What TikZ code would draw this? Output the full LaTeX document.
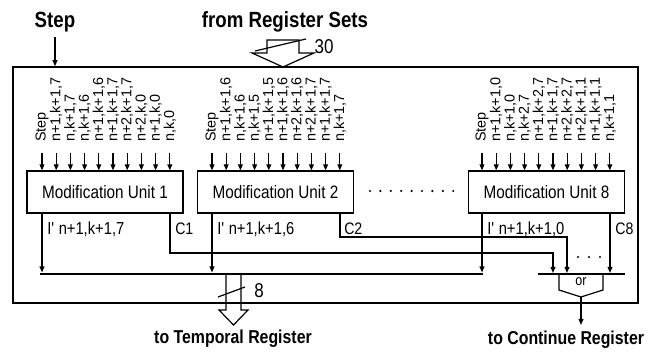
\documentclass[tikz,border=0pt]{standalone}
\usepackage{fontspec}
\setmainfont{Liberation Sans}[FakeStretch=0.85]
\newfontfamily\pinfont{Liberation Sans}
\usetikzlibrary{arrows.meta}
\begin{document}
\begin{tikzpicture}[x=0.75pt,y=-0.75pt]
	\tikzset{
		unitbox/.style={draw, line width=0.9pt, minimum width=117pt, minimum height=31.5pt, inner sep=0pt, font=\fontsize{13.5}{15}\selectfont},
		inname/.style={rotate=90, anchor=west, inner sep=0pt, font=\pinfont\fontsize{10.8}{12}\selectfont},
		outname/.style={anchor=west, inner sep=0pt, font=\fontsize{13}{15}\selectfont},
		extlbl/.style={inner sep=0pt, font=\bfseries\fontsize{16.5}{18}\selectfont},
		sig/.style={line width=0.9pt, -{Triangle[length=4.5pt,width=3.6pt]}},
		wire/.style={line width=0.9pt},
		dotmark/.style={circle, fill=black, inner sep=0pt, minimum size=1.8pt}
	}
	\useasboundingbox (0,0) rectangle (661,352);
	% frame and units
	\node[draw, line width=1.2pt, minimum width=468.75pt, minimum height=177pt, inner sep=0pt] (frame) at (325.5,185) {};
	\node[unitbox] (mu1) at (105,192)   {Modification Unit 1};
	\node[unitbox] (mu2) at (275.5,192) {Modification Unit 2};
	\node[unitbox] (mu8) at (546.5,192) {Modification Unit 8};
	\foreach \k in {0,...,8}
		\node[dotmark] (gap\k) at (370+10.4*\k,191) {};
	% outside labels
	\node[extlbl] (steplbl) at (55,22) {Step};
	\node[extlbl] (fromlbl) at (285,22) {from Register Sets};
	\node[extlbl, font=\bfseries\fontsize{14}{16}\selectfont] (temp) at (233,339) {to Temporal Register};
	\node[extlbl, font=\bfseries\fontsize{14}{16}\selectfont] (cont) at (566,340) {to Continue Register};
	\coordinate (s0) at (55,37);
	\draw[sig] (s0) -- (s0 |- frame.north);
	% input bus from register sets
	\coordinate (bt) at (283,67);
	\draw[wire, line join=miter] (267,40) -- (299,40) -- (299,53) -- (314,53) -- (bt) -- (252,53) -- (267,53) -- cycle;
	\draw[wire] (255,51) -- (306,39);
	\node[inner sep=0pt, font=\fontsize{15}{17}\selectfont] (w30) at (324,47) {30};
	% inputs of the units
	\foreach \lab [count=\i] in {Step,{n+1,k+1,7},{n,k+1,7},{n,k+1,6},{n+1,k+1,6},{n+1,k+1,7},{n+2,k+1,7},{n+2,k,0},{n+1,k,0},{n,k,0}}{
		\pgfmathsetmacro\xx{42+14.2*(\i-1)}
		\node[inname] (ua\i) at (\xx,142) {\lab};
		\coordinate (ta\i) at (\xx,153);
		\draw[sig] (ta\i) -- (ta\i |- mu1.north);
	}
	\foreach \lab [count=\i] in {Step,{n+1,k+1,6},{n,k+1,6},{n,k+1,5},{n+1,k+1,5},{n+1,k+1,6},{n+2,k+1,6},{n+2,k+1,7},{n+1,k+1,7},{n,k+1,7}}{
		\pgfmathsetmacro\xx{212+14.2*(\i-1)}
		\node[inname] (ub\i) at (\xx,142) {\lab};
		\coordinate (tb\i) at (\xx,153);
		\draw[sig] (tb\i) -- (tb\i |- mu2.north);
	}
	\foreach \lab [count=\i] in {Step,{n+1,k+1,0},{n,k+1,0},{n,k+2,7},{n+1,k+2,7},{n+1,k+1,7},{n+2,k+2,7},{n+2,k+1,1},{n+1,k+1,1},{n,k+1,1}}{
		\pgfmathsetmacro\xx{482+14.2*(\i-1)}
		\node[inname] (uh\i) at (\xx,142) {\lab};
		\coordinate (th\i) at (\xx,153);
		\draw[sig] (th\i) -- (th\i |- mu8.north);
	}
	% outputs
	\node[outname] (o1) at (47,229)  {I\textquotesingle\ n+1,k+1,7};
	\node[outname] (o2) at (217,229) {I\textquotesingle\ n+1,k+1,6};
	\node[outname] (o8) at (487,229) {I\textquotesingle\ n+1,k+1,0};
	\node[outname, font=\fontsize{12.5}{14}\selectfont] (c1) at (175,229) {C1};
	\node[outname, font=\fontsize{12.5}{14}\selectfont] (c2) at (344,229) {C2};
	\node[outname, font=\fontsize{12.5}{14}\selectfont] (c8) at (615,229) {C8};
	\coordinate (busl) at (40,274);
	\coordinate (busr) at (483,274);
	\draw[line width=2.2pt] (busl) -- (busr);
	\draw[sig] (ta1 |- mu1.south) -- (ta1 |- 0,272.5);
	\draw[sig] (tb1 |- mu2.south) -- (tb1 |- 0,272.5);
	\draw[sig] (th1 |- mu8.south) -- (th1 |- 0,272.5);
	% output bus to temporal register
	\draw[wire, line join=miter] (226,275) -- (226,310) -- (219,310) -- (233.5,325) -- (248,310) -- (241,310) -- (241,275);
	\draw[wire] (218,297) -- (245,287);
	\node[inner sep=0pt, font=\fontsize{15}{17}\selectfont] (w8) at (259,291) {8};
	% or gate
	\coordinate (g1) at (553,273);
	\coordinate (g2) at (567,273);
	\coordinate (g3) at (610,273);
	\coordinate (lc1) at (170,253);
	\coordinate (lc2) at (340,237);
	\draw[sig] (lc1 |- mu1.south) -- (lc1) -| (g1);
	\draw[sig] (lc2 |- mu2.south) -- (lc2) -| (g2);
	\draw[sig] (g3 |- mu8.south) -- (g3);
	\foreach \k in {0,1,2}
		\node[dotmark] (cd\k) at (578+11*\k,257) {};
	\draw[wire] (538,274) -- (625,274);
	\draw[wire, line join=miter] (559,274) -- (559,290) -- (581,297) -- (603,290) -- (603,274);
	\node[inner sep=0pt, font=\fontsize{11}{13}\selectfont] (orlbl) at (581,282) {or};
	\coordinate (gout) at (581,297);
	\draw[sig] (gout) -- (gout |- 0,325);
\end{tikzpicture}
\end{document}
